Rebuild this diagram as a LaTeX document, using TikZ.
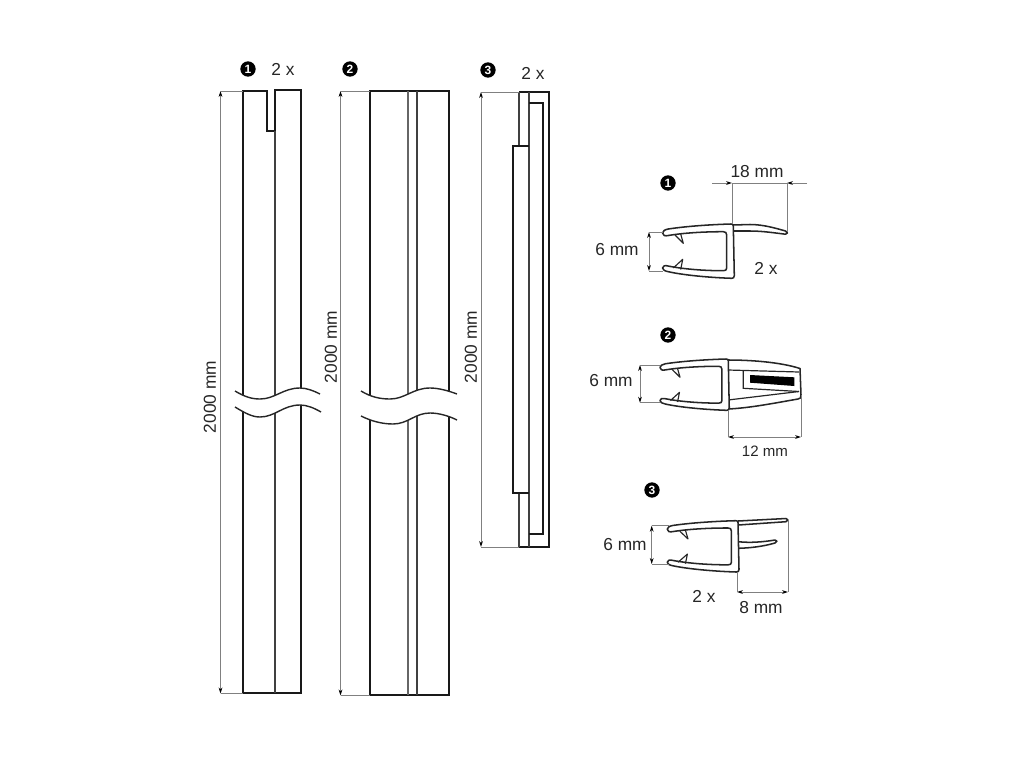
\documentclass[tikz,border=0pt]{standalone}
\usepackage{fontspec}
\setmainfont{Liberation Sans}
\usetikzlibrary{arrows.meta}
\tikzset{
  strip/.style={line width=1.75pt,black!90,line join=miter},
  stripthin/.style={line width=1.2pt,black!75},
  waveline/.style={line width=1.05pt,black!85},
  dim/.style={line width=0.7pt,black!50},
  dimarrow/.style={dim,{Stealth[length=4.5pt,width=2.8pt,black]}-{Stealth[length=4.5pt,width=2.8pt,black]}},
  label/.style={inner sep=0pt,font=\fontsize{13}{13}\selectfont,black!85},
  labelsmall/.style={inner sep=0pt,font=\fontsize{11.3}{12}\selectfont,black!85},
  badge/.style={circle,fill=black,inner sep=0pt,minimum size=11.5pt,text=white,font=\fontsize{9}{9}\selectfont\bfseries},
  profile/.style={line width=1.15pt,black!85,line join=round},
  pics/channel/.style={code={
    \draw[profile,fill=white] (-64.7,5) .. controls (-45,2) and (-20,0.5) .. (-2,0) .. controls (-0.5,0) and (0.3,0.5) .. (0.3,2)
      -- (1.3,51.5) .. controls (1.3,53.5) and (0.3,54.5) .. (-1.3,54.3) .. controls (-25,53.5) and (-50,51) .. (-64.7,47.7)
      .. controls (-68,47) and (-70.5,46) .. (-70.5,44) .. controls (-70.5,42) and (-68,41) .. (-65,42)
      .. controls (-50,45) and (-30,46.7) .. (-9.7,46.7) .. controls (-7.5,46.7) and (-6.3,46) .. (-6.3,44)
      -- (-6.3,11) .. controls (-6.3,8.7) and (-7.5,7.7) .. (-9.7,7.7) .. controls (-30,7.7) and (-50,9) .. (-64.7,11.5)
      .. controls (-68,12.3) and (-70.5,11.5) .. (-70.5,9) .. controls (-70.5,7) and (-68,5.6) .. (-64.7,5) -- cycle;
    \draw[line width=0.85pt,black!85,line join=round] (-58,11) -- (-49.7,19.3) -- (-52.3,10);
    \draw[line width=0.85pt,black!85,line join=round] (-59.7,44) -- (-50.3,35.3) -- (-52.3,45.5);
  }}
}
\begin{document}
\begin{tikzpicture}[x=0.75pt,y=-0.75pt]
  \useasboundingbox (0,0) rectangle (1024,768);

  % long strips
  \draw[strip] (243,91) -- (267,91) -- (267,131) -- (275,131) -- (275,90) -- (301,90) -- (301,693) -- (243,693) -- cycle;
  \draw[stripthin] (275,131) -- (275,693);
  \draw[strip] (370,91) rectangle (449,695);
  \draw[stripthin,black!60] (408,91) -- (408,695);
  \draw[stripthin] (417,91) -- (417,695);
  \draw[strip] (519,92) -- (549,92) -- (549,547) -- (519,547);
  \draw[stripthin] (519,92) -- (519,146);
  \draw[stripthin] (519,493) -- (519,547);
  \draw[stripthin] (529,92) -- (529,547);
  \draw[strip] (529,146) -- (513,146) -- (513,493) -- (529,493);
  \draw[strip,line width=1.3pt] (529,103) -- (543,103) -- (543,534) -- (529,534);

  % breaks
  \fill[white] (235,391) .. controls (245,397) and (252,399) .. (260,399) .. controls (275,399) and (283,388) .. (300,388)
    .. controls (307,388) and (314,391) .. (320,394) -- (321,412)
    .. controls (314,408) and (307,405) .. (300,405) .. controls (283,405) and (275,417) .. (260,417)
    .. controls (252,417) and (245,413) .. (235,407) -- cycle;
  \draw[waveline] (235,391) .. controls (245,397) and (252,399) .. (260,399) .. controls (275,399) and (283,388) .. (300,388)
    .. controls (307,388) and (314,391) .. (320,394);
  \draw[waveline] (235,407) .. controls (245,413) and (252,417) .. (260,417) .. controls (275,417) and (283,405) .. (300,405)
    .. controls (307,405) and (314,408) .. (321,412);
  \fill[white] (361,391) .. controls (371,397) and (380,399) .. (390,399) .. controls (405,399) and (413,388) .. (430,388)
    .. controls (439,388) and (449,391) .. (457,394) -- (457,420)
    .. controls (449,416) and (439,413) .. (430,413) .. controls (415,413) and (408,424) .. (393,424)
    .. controls (382,424) and (371,421) .. (361,416) -- cycle;
  \draw[waveline] (361,391) .. controls (371,397) and (380,399) .. (390,399) .. controls (405,399) and (413,388) .. (430,388)
    .. controls (439,388) and (449,391) .. (457,394);
  \draw[waveline] (361,416) .. controls (371,421) and (382,424) .. (393,424) .. controls (408,424) and (415,413) .. (430,413)
    .. controls (439,413) and (449,416) .. (457,420);

  % dimensions of the strips
  \coordinate (ta) at (220.5,91);
  \coordinate (ba) at (220.5,693.5);
  \coordinate (tb) at (340.5,91);
  \coordinate (bb) at (340.5,695.5);
  \coordinate (tc) at (481,92);
  \coordinate (bc) at (481,547);
  \draw[dimarrow] (ta) -- (ba);
  \draw[dim] (ta) -- (243,91);
  \draw[dim] (ba) -- (243,693.5);
  \draw[dimarrow] (tb) -- (bb);
  \draw[dim] (tb) -- (370,91);
  \draw[dim] (bb) -- (370,695.5);
  \draw[dimarrow] (tc) -- (bc);
  \draw[dim] (tc) -- (519,92);
  \draw[dim] (bc) -- (519,547);
  \node[label,rotate=90] (la) at (210,397) {2000 mm};
  \node[label,rotate=90] (lb) at (331,347) {2000 mm};
  \node[label,rotate=90] (lc) at (471,347) {2000 mm};

  \node[badge] (n1) at (248,69) {1};
  \node[badge] (n2) at (350,69) {2};
  \node[badge] (n3) at (488,70) {3};
  \node[label] (x1) at (283,69) {2 x};
  \node[label] (x3) at (533,73) {2 x};

  % profile 1
  \draw[profile] (733,225) -- (750,224.5) .. controls (763,224.5) and (775,228) .. (785.5,231)
    .. controls (788,231.8) and (788,234.3) .. (785.5,234.2) .. controls (775,233) and (763,231) .. (750,231) -- (733.3,231);
  \pic at (733,224) {channel};
  \node[badge] (p1) at (668,183) {1};
  \node[label] (w1) at (757,172) {18 mm};
  \node[label] (h1) at (617,250) {6 mm};
  \node[label] (y1) at (766,268) {2 x};
  \draw[dim,-{Stealth[length=4.5pt,width=2.8pt,black]}] (712,183) -- (732,183);
  \draw[dim,-{Stealth[length=4.5pt,width=2.8pt,black]}] (807,183) -- (787,183);
  \draw[dim] (732,183) -- (787,183);
  \draw[dim] (732,183) -- (732,224);
  \draw[dim] (787,183) -- (787,232);
  \draw[dimarrow] (649,232) -- (649,271);
  \draw[dim] (649,232) -- (663,232);
  \draw[dim] (649,271) -- (663,271);

  % profile 2
  \draw[profile] (728,360) .. controls (750,360) and (780,362) .. (800,368.5) -- (801,395)
    .. controls (801.5,398) and (800,398.5) .. (798,399) .. controls (775,403) and (750,408) .. (728,409);
  \draw[line width=0.9pt,black!85] (728,370) -- (799,372);
  \draw[line width=0.9pt,black!85] (743.3,370.5) -- (743.3,388.3) -- (799,391.5);
  \draw[line width=0.9pt,black!85] (728,400) -- (799,391.5);
  \fill[black] (750,375) -- (794.3,377.3) -- (794.3,386) -- (750,382.7) -- cycle;
  \pic[xscale=0.965,yscale=0.945] at (728,359) {channel};
  \node[badge] (p2) at (668,335) {2};
  \node[label] (h2) at (611,381) {6 mm};
  \node[labelsmall] (w2) at (765,451) {12 mm};
  \draw[dimarrow] (728,437) -- (801,437);
  \draw[dim] (728,410) -- (728,437);
  \draw[dim] (801,395) -- (801,437);
  \draw[dimarrow] (640,365) -- (640,402.7);
  \draw[dim] (640,365) -- (660,365);
  \draw[dim] (640,402.7) -- (660,402.7);

  % profile 3
  \draw[profile] (738,521) -- (786,518.5) .. controls (788.5,518.3) and (788.5,521.5) .. (786,521.7) -- (738.3,525);
  \draw[profile] (738.3,541.7) .. controls (750,543) and (763,542) .. (775,540)
    .. controls (777.5,539.7) and (777.5,542.5) .. (775,543) .. controls (763,546.5) and (750,548) .. (738.3,548.3);
  \pic[yscale=0.945] at (737.7,520.7) {channel};
  \node[badge] (p3) at (652,490) {3};
  \node[label] (h3) at (625,545) {6 mm};
  \node[label] (y3) at (704,596) {2 x};
  \node[label] (w3) at (761,608) {8 mm};
  \draw[dimarrow] (737,592) -- (788,592);
  \draw[dim] (737,572) -- (737,592);
  \draw[dim] (788,520) -- (788,592);
  \draw[dimarrow] (651.7,525.7) -- (651.7,564);
  \draw[dim] (651.7,525.7) -- (669,525.7);
  \draw[dim] (651.7,564) -- (669,564);
\end{tikzpicture}
\end{document}
